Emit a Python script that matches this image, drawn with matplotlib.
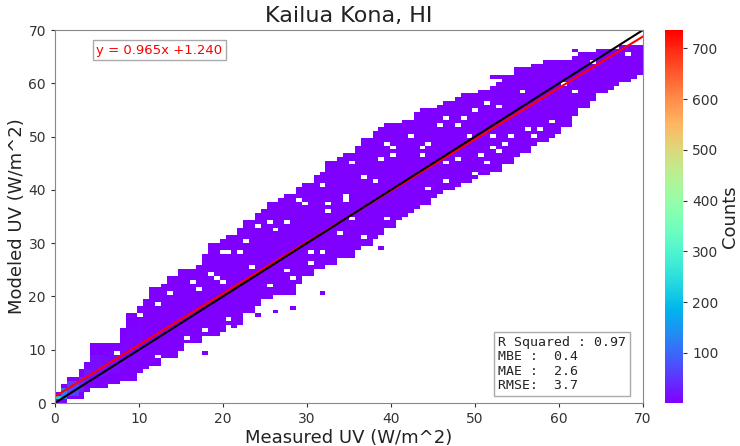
import numpy as np
import matplotlib
matplotlib.use('Agg')
import matplotlib.pyplot as plt

# band extent of the 2D histogram, read per 1 W/m^2 of measured UV (x = 0..70)
col_x = list(range(71))
band_lower = [0, 0, 0.5, 1, 2, 2.5, 3, 3.5, 4, 4.5,
              5.5, 6.5, 7, 7.5, 8.5, 9.5, 11, 11.5, 12.4, 12.8,
              13.2, 14, 15, 17, 18.5, 19.5, 19.8, 20, 20.5, 22.5,
              23.5, 25, 25.5, 26, 27, 27.5, 28.5, 29.3, 30.5, 31.5,
              32.8, 34, 35.3, 36.5, 37.3, 38.5, 39.5, 40.2, 40.9, 41.3,
              41.8, 42.8, 43.3, 43.7, 45, 46.5, 47, 48, 49, 50,
              50.6, 52, 54, 55.5, 56.8, 57.8, 58.7, 59.5, 60.5, 61.2,
              61.5]
band_upper = [2, 3.5, 5, 6.5, 8, 11, 11.5, 11.5, 14, 17,
              18.5, 19.5, 22, 22.5, 23.5, 25, 25.5, 26, 28, 30,
              30.5, 31.5, 33, 34.3, 35.5, 36.6, 37.5, 38.7, 39.5, 40.5,
              41.5, 42.5, 43.5, 45.6, 46.5, 47.2, 48.5, 49.7, 50.8, 51.5,
              52.2, 52.7, 53.5, 54.3, 55, 55.5, 56, 56.5, 57.5, 58,
              58.2, 59, 59.7, 60.5, 61.5, 62.8, 63.2, 63.5, 64, 64.3,
              64.5, 64.7, 65.2, 65.5, 65.9, 66.2, 66.5, 66.8, 67, 67.2,
              67.2]
# counts in the dense core of the band for the first columns (bluish near origin)
core_counts = [230, 120, 60, 35, 22, 15, 12, 10, 8, 6, 5]
core_count_rest = 3
edge_count = 1

# empty cells inside the band (measured, modeled)
holes_x = [22.8, 20.5, 21.8, 17.0, 18.8, 19.4, 23.5, 25.4, 26.2, 28.0, 28.3, 30.4, 30.4, 32.1,
           24.4, 26.5, 25.8, 28.0, 32.4, 32.7, 30.0, 29.2, 31.9, 39.6, 40.5, 42.3, 43.5, 44.3,
           39.0, 36.7, 38.1, 40.5, 43.7, 34.8, 34.5, 39.5, 42.3, 44.6, 46.2, 46.7, 47.9, 49.8,
           50.6, 45.8, 46.7, 47.9, 49.0, 49.2, 50.2, 34.3, 36.7, 35.1, 55.4, 62.3, 59.2, 56.2,
           57.7, 54.5, 52.1, 53.8, 56.9, 68.5, 64.5, 67.6, 51.4, 53.0, 60.5, 63.7, 52.1, 52.7,
           51.4, 14.0, 15.7, 12.5, 14.5, 13.3, 12.5, 20.2, 17.3, 16.4, 18.8, 19.6, 21.8, 9.8,
           7.1, 15.5, 12.7, 11.1, 20.5, 20.8, 17.9, 35.5]
holes_y = [30.6, 28.3, 28.5, 21.2, 24.0, 23.1, 25.7, 22.1, 19.9, 25.0, 23.1, 28.3, 26.5, 28.3,
           33.4, 32.8, 34.0, 34.0, 37.5, 35.8, 37.1, 38.5, 40.9, 48.4, 48.0, 50.3, 48.0, 48.8,
           45.6, 42.4, 41.8, 46.2, 46.2, 38.1, 39.0, 34.9, 35.6, 40.3, 41.5, 45.2, 45.6, 43.3,
           46.9, 52.2, 53.5, 52.5, 53.7, 49.9, 55.0, 32.1, 31.1, 34.9, 58.7, 58.7, 53.1, 51.6,
           51.6, 50.3, 49.9, 48.8, 50.1, 65.7, 56.5, 58.7, 56.5, 55.9, 60.0, 63.8, 48.0, 47.1,
           45.2, 20.3, 12.4, 8.6, 8.1, 8.1, 18.4, 28.1, 21.2, 22.7, 24.4, 22.7, 28.3, 16.1,
           9.6, 12.4, 8.1, 5.8, 15.6, 14.3, 13.7, 45.0]
# isolated cells outside the band
outliers_x = [17.9, 24.2, 26.5, 28.2, 31.9, 38.9, 62.3, 52.4, 58.3, 56.8, 64.6, 53.0]
outliers_y = [9.6, 16.5, 17.3, 18.0, 20.8, 29.3, 65.9, 61.5, 63.8, 63.0, 65.7, 61.5]

slope, intercept = 0.965, 1.240
stats_text = 'R Squared : 0.97\nMBE :  0.4\nMAE :  2.6\nRMSE:  3.7'

# histogram bins
x_edges = np.arange(0, 70.01, 0.7)
y_edges = np.arange(0, 70.01, 0.7)
xc = (x_edges[:-1] + x_edges[1:]) / 2
yc = (y_edges[:-1] + y_edges[1:]) / 2

counts = np.zeros((len(yc), len(xc)))
for i, x in enumerate(xc):
    k = col_x.index(int(round(x)))
    lo, hi = band_lower[k], band_upper[k]
    width = hi - lo
    core = core_counts[k] if k < len(core_counts) else core_count_rest
    for j, y in enumerate(yc):
        if lo <= y <= hi:
            if lo + width / 4 <= y <= hi - width / 4:
                counts[j, i] = core
            else:
                counts[j, i] = edge_count
for hx, hy in zip(holes_x, holes_y):
    counts[np.searchsorted(y_edges, hy) - 1, np.searchsorted(x_edges, hx) - 1] = 0
for ox, oy in zip(outliers_x, outliers_y):
    counts[np.searchsorted(y_edges, oy) - 1, np.searchsorted(x_edges, ox) - 1] = 1
counts = np.ma.masked_equal(counts, 0)

fig = plt.figure(figsize=(7.4, 4.46), dpi=100)
ax = fig.add_axes([0.0743, 0.0964, 0.7946, 0.8363])
cax = fig.add_axes([0.8986, 0.0964, 0.0243, 0.8363])

mesh = ax.pcolormesh(x_edges, y_edges, counts, cmap='rainbow', vmin=1, vmax=736)

line_x = np.array([0, 70])
ax.plot(line_x, slope * line_x + intercept, color='red', lw=1.5)
ax.plot(line_x, line_x, color='black', lw=1.5)

ax.set_xlim(0, 70)
ax.set_ylim(0, 70)
ax.set_title('Kailua Kona, HI', fontsize=16, color='#222222')
ax.set_xlabel('Measured UV (W/m^2)', fontsize=13, color='#222222', labelpad=2)
ax.set_ylabel('Modeled UV (W/m^2)', fontsize=13, color='#222222', labelpad=2)
ax.tick_params(labelsize=10, colors='#333333', length=3)
for s in ax.spines.values():
    s.set_color('#888888')

ax.text(0.07, 0.946, 'y = %.3fx +%.3f' % (slope, intercept), transform=ax.transAxes,
        color='red', fontsize=9.5, va='center', ha='left',
        bbox=dict(facecolor='white', edgecolor='#aaaaaa', pad=2.5))
ax.text(0.753, 0.03, stats_text, transform=ax.transAxes, family='DejaVu Sans Mono',
        color='#222222', fontsize=9.5, va='bottom', ha='left', linespacing=1.12,
        bbox=dict(facecolor='white', edgecolor='#aaaaaa', pad=3))

cb = fig.colorbar(mesh, cax=cax)
cb.set_ticks([100, 200, 300, 400, 500, 600, 700])
cb.set_label('Counts', fontsize=13, color='#222222', labelpad=2)
cb.ax.tick_params(labelsize=10, colors='#333333', length=3)
cb.outline.set_visible(False)

plt.savefig('out.png', dpi=100)
